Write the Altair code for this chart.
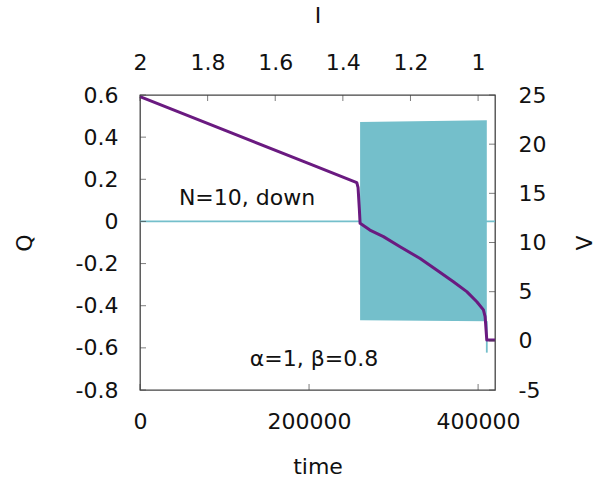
import altair as alt
import pandas as pd

# ---- data ----
purple_time = [0, 100000, 200000, 256500, 258000, 259500, 260400, 272000, 288000, 307700,
               331400, 351000, 370800, 386600, 398500, 406300, 408300, 410300, 420000]
purple_Q = [0.592, 0.433, 0.274, 0.184, 0.16, 0.06, -0.009, -0.041, -0.072, -0.120,
            -0.176, -0.231, -0.286, -0.333, -0.381, -0.420, -0.452, -0.563, -0.563]

flat_time = [0, 420000]
flat_V = [12.14, 12.14]

band_time = [260400, 410300]
band_Vmin = [2.1, 1.98]
band_Vmax = [22.25, 22.43]

spike_time = [410300]
spike_Vlo = [-1.2]
spike_Vhi = [2.0]

time_ticks = [0, 200000, 400000]
I_ticks = [2, 1.8, 1.6, 1.4, 1.2, 1]
Q_ticks = [-0.8, -0.6, -0.4, -0.2, 0, 0.2, 0.4, 0.6]
V_ticks = [-5, 0, 5, 10, 15, 20, 25]

labels_text = ["N=10, down", "α=1, β=0.8"]
labels_time = [126600, 205900]
labels_Q = [0.111, -0.653]

W, H = 355, 295
T_DOM = [0, 420000]
Q_DOM = [-0.8, 0.6]
V_DOM = [-5, 25]
I_DOM = [2, 0.95]
FONT = "DejaVu Sans"
FS = 22
CYAN = "#74BFCB"
PURPLE = "#6A1A80"
FRAME = "#444444"
MINUS_EXPR = "datum.value < 0 ? '-' + format(-datum.value, '') : format(datum.value, '')"

purple_df = pd.DataFrame({"t": purple_time, "Q": purple_Q})
flat_df = pd.DataFrame({"t": flat_time, "V": flat_V})
band_df = pd.DataFrame({"t": band_time, "vmin": band_Vmin, "vmax": band_Vmax})
spike_df = pd.DataFrame({"t": spike_time, "lo": spike_Vlo, "hi": spike_Vhi})
lab_df = pd.DataFrame({"t": labels_time, "Q": labels_Q, "txt": labels_text})

tX = lambda f: alt.X(f, type="quantitative", scale=alt.Scale(domain=T_DOM, nice=False, zero=False), axis=None)
vY = lambda f: alt.Y(f, type="quantitative", scale=alt.Scale(domain=V_DOM, nice=False, zero=False), axis=None)
qY = lambda f: alt.Y(f, type="quantitative", scale=alt.Scale(domain=Q_DOM, nice=False, zero=False), axis=None)

axis_common = dict(labelFont=FONT, titleFont=FONT, labelFontSize=FS, titleFontSize=FS,
                   labelColor="#111111", titleColor="#111111", titleFontWeight="normal",
                   tickSize=0, domain=False, grid=False, labelFlush=False, labelOverlap=False)

flat = alt.Chart(flat_df).mark_line(color=CYAN, strokeWidth=1.8).encode(x=tX("t"), y=vY("V"))
band = alt.Chart(band_df).mark_area(color=CYAN, opacity=1).encode(
    x=tX("t"), y=vY("vmin"), y2="vmax")
spike = alt.Chart(spike_df).mark_rule(color=CYAN, strokeWidth=1.8).encode(
    x=tX("t"), y=vY("lo"), y2="hi")
purple = alt.Chart(purple_df).mark_line(color=PURPLE, strokeWidth=3, strokeJoin="round").encode(
    x=tX("t"), y=qY("Q"))
labels = alt.Chart(lab_df).mark_text(font=FONT, fontSize=FS, color="#111111").encode(
    x=tX("t"), y=qY("Q"), text="txt")

# axes with inward ticks
bottom = alt.Chart(pd.DataFrame({"t": time_ticks})).mark_tick(
    color=FRAME, size=6, thickness=1).encode(
    x=alt.X("t:Q", scale=alt.Scale(domain=T_DOM, nice=False, zero=False),
            axis=alt.Axis(orient="bottom", title="time", values=time_ticks, format="d",
                          labelPadding=21, titlePadding=24, **axis_common)),
    y=alt.value(H - 3))
top = alt.Chart(pd.DataFrame({"I": I_ticks})).mark_tick(
    color=FRAME, size=6, thickness=1).encode(
    x=alt.X("I:Q", scale=alt.Scale(domain=I_DOM, nice=False, zero=False),
            axis=alt.Axis(orient="top", title="I", values=I_ticks, labelExpr=MINUS_EXPR,
                          labelPadding=21, titlePadding=24, **axis_common)),
    y=alt.value(3))
left = alt.Chart(pd.DataFrame({"Q": Q_ticks})).mark_tick(
    color=FRAME, size=6, thickness=1, orient="horizontal").encode(
    y=alt.Y("Q:Q", scale=alt.Scale(domain=Q_DOM, nice=False, zero=False),
            axis=alt.Axis(orient="left", title="Q", values=Q_ticks, labelExpr=MINUS_EXPR,
                          labelPadding=22, titlePadding=39, **axis_common)),
    x=alt.value(3))
right = alt.Chart(pd.DataFrame({"V": V_ticks})).mark_tick(
    color=FRAME, size=6, thickness=1, orient="horizontal").encode(
    y=alt.Y("V:Q", scale=alt.Scale(domain=V_DOM, nice=False, zero=False),
            axis=alt.Axis(orient="right", title="V", values=V_ticks, labelExpr=MINUS_EXPR,
                          titleAngle=270, labelPadding=23, titlePadding=51, **axis_common)),
    x=alt.value(W - 3))

chart = alt.layer(flat, band, spike, purple, labels, bottom, top, left, right).resolve_scale(
    x="independent", y="independent").properties(
    width=W, height=H,
    autosize=alt.AutoSizeParams(type="none"),
    padding={"left": 140, "top": 95, "right": 108, "bottom": 91},
    background="white",
).configure_view(stroke=FRAME, strokeWidth=1.3)

chart.save("out.html", embed_options={"renderer": "svg", "actions": False})
